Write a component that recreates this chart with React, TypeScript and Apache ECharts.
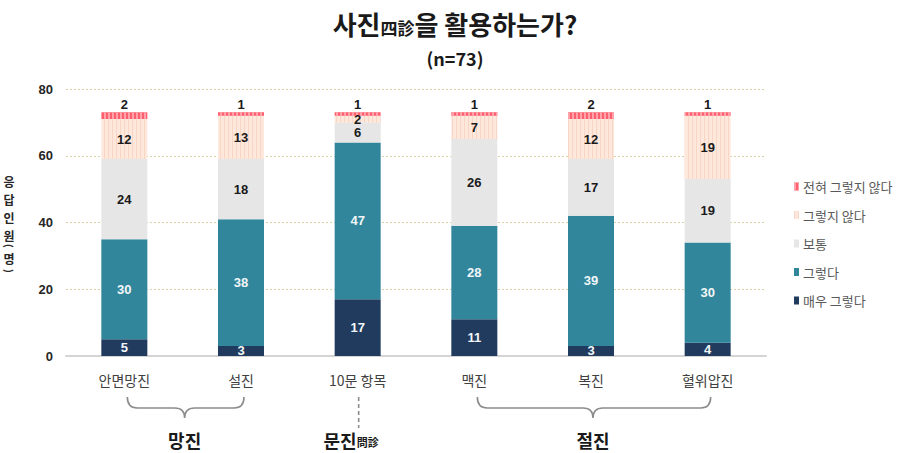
import React, { useEffect, useRef } from 'react';
import * as echarts from 'echarts';

const categories = ['안면망진', '설진', '10문 항목', '맥진', '복진', '혈위압진'];
const seriesNames = ['매우 그렇다', '그렇다', '보통', '그렇지 않다', '전혀 그렇지 않다'];
const veryAgree = [5, 3, 17, 11, 3, 4];
const agree = [30, 38, 47, 28, 39, 30];
const neutral = [24, 18, 6, 26, 17, 19];
const disagree = [12, 13, 2, 7, 12, 19];
const stronglyDisagree = [2, 1, 1, 1, 2, 1];
const yTicks = [0, 20, 40, 60, 80];
const yAxisNameChars = ['응', '답', '인', '원', '(', '명', ')'];
const groupNames = ['망진', '문진', '절진'];
const groupRanges = [[0, 1], [2, 2], [3, 5]];

const KR = "'Noto Sans CJK KR', 'Noto Sans', sans-serif";
const NUM = "'Liberation Sans', 'Noto Sans CJK KR', sans-serif";

const colors = ['#203b5e', '#31869c', '#e7e6e6', '#fde8db', '#ff5e6c'];

function bracePath(x1: number, x2: number, xm: number, yTop: number, yMid: number, yTip: number, r: number) {
  return `M${x1},${yTop} Q${x1},${yMid} ${x1 + r},${yMid} L${xm - r},${yMid} Q${xm},${yMid} ${xm},${yTip} Q${xm},${yMid} ${xm + r},${yMid} L${x2 - r},${yMid} Q${x2},${yMid} ${x2},${yTop}`;
}

export default function App() {
  const ref = useRef<HTMLDivElement>(null);
  useEffect(() => {
    document.body.style.margin = '0';
    const chart = echarts.init(ref.current!, null, { renderer: 'svg' });
    const values = [veryAgree, agree, neutral, disagree, stronglyDisagree];
    const labelColors = ['#f2f6f8', '#f2f6f8', '#1a1a1a', '#1a1a1a', '#1a1a1a'];
    const decals: any[] = [
      undefined,
      undefined,
      undefined,
      { symbol: 'rect', symbolSize: 1, dashArrayX: [1, 3], dashArrayY: [4, 0], color: 'rgba(244,196,178,0.55)', rotation: 0 },
      { symbol: 'rect', symbolSize: 1, dashArrayX: [2, 2], dashArrayY: [4, 0], color: 'rgba(255,170,178,0.9)', rotation: 0 },
    ];
    const option: any = {
      animation: false,
      backgroundColor: '#ffffff',
      grid: { left: 66, right: 139, top: 89, bottom: 97 },
      legend: {
        orient: 'vertical',
        left: 789,
        top: 175,
        itemWidth: 5,
        itemHeight: 8,
        itemGap: 15.5,
        icon: 'rect',
        data: [...seriesNames].reverse(),
        textStyle: { fontFamily: KR, fontSize: 13, color: '#595959', padding: [0, 0, 0, -1] },
      },
      xAxis: {
        type: 'category',
        data: categories,
        axisLine: { lineStyle: { color: '#d4d4d4', width: 2 } },
        axisTick: { show: false },
        axisLabel: { fontFamily: KR, fontSize: 14, color: '#404040', margin: 17 },
      },
      yAxis: {
        type: 'value',
        min: yTicks[0],
        max: yTicks[yTicks.length - 1],
        interval: yTicks[1] - yTicks[0],
        axisLine: { show: false },
        axisTick: { show: false },
        axisLabel: { fontFamily: NUM, fontSize: 13, fontWeight: 'bold', color: '#262626', margin: 13 },
        splitLine: { lineStyle: { color: '#d9d4a6', type: [2, 2], width: 1 } },
      },
      series: seriesNames.map((name, i) => ({
        name,
        type: 'bar',
        stack: 'total',
        barWidth: 46,
        data: values[i],
        itemStyle: { color: colors[i], ...(decals[i] ? { decal: decals[i] } : {}) },
        label: {
          show: true,
          position: i === 4 ? 'top' : 'inside',
          distance: 1,
          fontFamily: NUM,
          fontSize: 13,
          fontWeight: 'bold',
          color: labelColors[i],
        },
      })),
    };
    chart.setOption(option);

    const cx = (i: number) => chart.convertToPixel({ xAxisIndex: 0 }, i) as number;
    const yTop = 397, yMid = 408, yTip = 418, yLabel = 440;
    const graphic: any[] = [
      {
        type: 'text',
        x: 455,
        y: 21,
        style: {
          text: '{a|사진}{b|四診}{a|을 활용하는가?}',
          align: 'center',
          verticalAlign: 'middle',
          fill: '#1a1a1a',
          rich: {
            a: { fontFamily: KR, fontSize: 26, fontWeight: 'bold', fill: '#1a1a1a', lineHeight: 30, verticalAlign: 'bottom' },
            b: { fontFamily: KR, fontSize: 17, fontWeight: 'bold', fill: '#1a1a1a', lineHeight: 24, verticalAlign: 'bottom' },
          },
        },
      },
      {
        type: 'text',
        x: 455,
        y: 58,
        style: { text: '(n=73)', align: 'center', verticalAlign: 'middle', fontFamily: KR, fontSize: 18, fontWeight: 'bold', fill: '#1a1a1a' },
      },
    ];
    // vertical axis name, stacked characters; parentheses turned sideways
    const nameYs = [181, 199, 217, 235, 246, 258, 271];
    yAxisNameChars.forEach((ch, i) => {
      const isParen = ch === '(' || ch === ')';
      graphic.push({
        type: 'text',
        x: 9,
        y: nameYs[i],
        rotation: isParen ? -Math.PI / 2 : 0,
        style: {
          text: ch,
          align: 'center',
          verticalAlign: 'middle',
          fontFamily: KR,
          fontSize: isParen ? 10 : 12,
          fontWeight: 'bold',
          fill: '#262626',
        },
      });
    });
    groupRanges.forEach((rg, gi) => {
      const a = cx(rg[0]);
      const b = cx(rg[1]);
      const mid = (a + b) / 2;
      if (rg[0] !== rg[1]) {
        const shapeName = 'brace' + gi;
        echarts.graphic.registerShape(shapeName, echarts.graphic.extendPath(bracePath(a + 3, b + 3, mid + 2, yTop, yMid, yTip, 10), {}) as any);
        graphic.push({
          type: shapeName,
          x: 0,
          y: 0,
          style: { fill: 'none', stroke: '#8c8c8c', lineWidth: 1.6 },
        });
        graphic.push({
          type: 'text',
          x: mid + 2,
          y: yLabel,
          style: { text: groupNames[gi], align: 'center', verticalAlign: 'middle', fontFamily: KR, fontSize: 18, fontWeight: 'bold', fill: '#1a1a1a' },
        });
      } else {
        graphic.push({
          type: 'line',
          shape: { x1: a + 1, y1: yTop, x2: a + 1, y2: 428 },
          style: { stroke: '#8c8c8c', lineWidth: 1.6, lineDash: [4, 3] },
        });
        graphic.push({
          type: 'text',
          x: a - 1,
          y: yLabel,
          style: { text: groupNames[gi], align: 'right', verticalAlign: 'middle', fontFamily: KR, fontSize: 18, fontWeight: 'bold', fill: '#1a1a1a' },
        });
        graphic.push({
          type: 'text',
          x: a - 1,
          y: yLabel + 7,
          style: { text: '問診', align: 'left', verticalAlign: 'bottom', fontFamily: KR, fontSize: 11, fontWeight: 'bold', fill: '#1a1a1a' },
        });
      }
    });
    chart.setOption({ graphic });
    return () => chart.dispose();
  }, []);
  return <div ref={ref} style={{ position: 'fixed', left: 0, top: 0, width: 905, height: 453 }} />;
}
